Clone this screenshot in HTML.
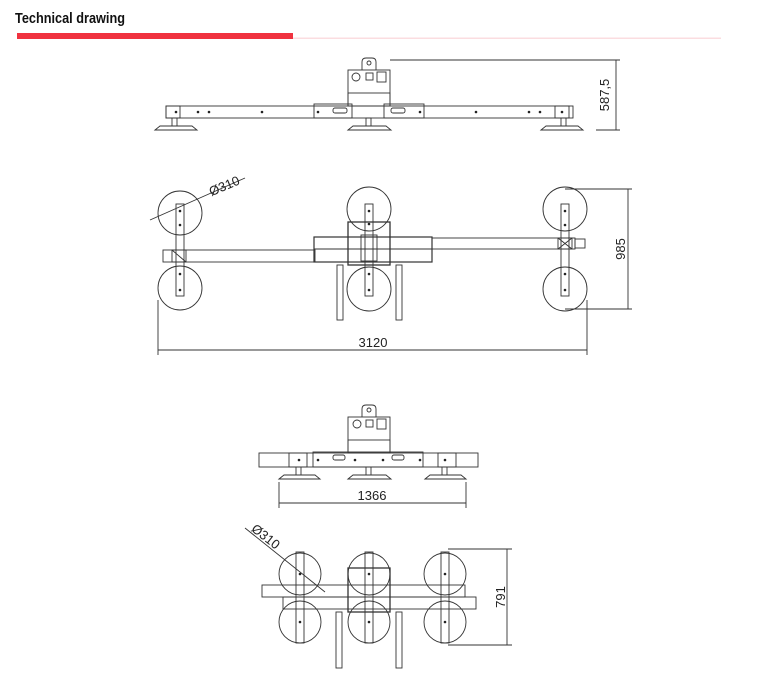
<!DOCTYPE html>
<html><head><meta charset="utf-8"><style>
body{margin:0;background:#fff;width:764px;height:680px;overflow:hidden}
svg{display:block}
</style></head><body>
<svg width="764" height="680" viewBox="0 0 764 680" xmlns="http://www.w3.org/2000/svg" font-family="Liberation Sans, sans-serif">
<text x="15" y="23" font-size="15" font-weight="bold" fill="#111" textLength="110" lengthAdjust="spacingAndGlyphs">Technical drawing</text>
<rect x="17" y="33" width="276" height="6" fill="#f0323f"/>
<rect x="293" y="37.5" width="428" height="1.5" fill="#fbdde0"/>
<g fill="none" stroke="#333" stroke-width="0.9">
<!-- TOP SIDE VIEW -->
<rect x="166" y="106" width="407" height="12"/>
<rect x="166" y="106" width="14" height="12"/><rect x="555" y="106" width="14" height="12"/>
<rect x="314" y="104" width="38" height="14"/><rect x="384" y="104" width="40" height="14"/>
<rect x="348" y="70" width="42" height="36"/><rect x="348" y="93" width="42" height="13"/>
<path d="M362 70 V62 Q362 58 366 58 H372 Q376 58 376 62 V70"/><circle cx="369" cy="63" r="2"/>
<circle cx="356" cy="77" r="4"/><rect x="366" y="73" width="7" height="7"/><rect x="377" y="72" width="9" height="10"/>
<rect x="333" y="108" width="14" height="5" rx="2"/><rect x="391" y="108" width="14" height="5" rx="2"/>
<rect x="172" y="118" width="5" height="8"/><rect x="366" y="118" width="5" height="8"/><rect x="561" y="118" width="5" height="8"/>
<path d="M155 130 L160 126 H192 L197 130 Z"/><path d="M348 130 L353 126 H386 L391 130 Z"/><path d="M541 130 L546 126 H578 L583 130 Z"/>
<path d="M390 60 H620 M596 130 H620 M616 60 V130"/>
<!-- TOP VIEW -->
<circle cx="180" cy="213" r="22"/><circle cx="180" cy="288" r="22"/>
<circle cx="369" cy="209" r="22"/><circle cx="369" cy="289" r="22"/>
<circle cx="565" cy="209" r="22"/><circle cx="565" cy="289" r="22"/>
<rect x="176" y="204" width="8" height="92"/><rect x="365" y="204" width="8" height="92"/><rect x="561" y="204" width="8" height="92"/>
<rect x="163" y="250" width="152" height="12"/><rect x="172" y="250" width="14" height="12"/><path d="M172 250 L186 262"/>
<rect x="432" y="238" width="143" height="11"/><rect x="558" y="238" width="14" height="11"/><path d="M558 238 L572 249 M572 238 L558 249"/>
<rect x="575" y="239" width="10" height="9"/>
<rect x="314" y="237" width="118" height="25" stroke-width="1.2"/><path d="M314 249 H432"/>
<rect x="348" y="222" width="42" height="43" stroke-width="1.3"/><rect x="361" y="235" width="16" height="26"/>
<rect x="337" y="265" width="6" height="55"/><rect x="396" y="265" width="6" height="55"/>
<path d="M150 220 L245 178"/>
<path d="M158 300 V355 M587 300 V355 M158 350 H587"/>
<path d="M565 189 H632 M565 309 H632 M628 189 V309"/>
<!-- BOTTOM SIDE VIEW -->
<rect x="259" y="453" width="219" height="14"/><rect x="289" y="453" width="18" height="14"/><rect x="438" y="453" width="18" height="14"/>
<rect x="313" y="452" width="110" height="15"/>
<rect x="348" y="417" width="42" height="36"/><rect x="348" y="440" width="42" height="13"/>
<path d="M362 417 V409 Q362 405 366 405 H372 Q376 405 376 409 V417"/><circle cx="369" cy="410" r="2"/>
<circle cx="357" cy="424" r="4"/><rect x="366" y="420" width="7" height="7"/><rect x="377" y="419" width="9" height="10"/>
<rect x="333" y="455" width="12" height="5" rx="2"/><rect x="392" y="455" width="12" height="5" rx="2"/>
<rect x="296" y="467" width="5" height="8"/><rect x="366" y="467" width="5" height="8"/><rect x="442" y="467" width="5" height="8"/>
<path d="M279 479 L284 475 H315 L320 479 Z"/><path d="M348 479 L353 475 H386 L391 479 Z"/><path d="M425 479 L430 475 H461 L466 479 Z"/>
<path d="M279 482 V508 M466 482 V508 M279 503 H466"/>
<!-- BOTTOM TOP VIEW -->
<circle cx="300" cy="574" r="21"/><circle cx="300" cy="622" r="21"/>
<circle cx="369" cy="574" r="21"/><circle cx="369" cy="622" r="21"/>
<circle cx="445" cy="574" r="21"/><circle cx="445" cy="622" r="21"/>
<rect x="296" y="552" width="8" height="91"/><rect x="365" y="552" width="8" height="91"/><rect x="441" y="552" width="8" height="91"/>
<rect x="262" y="585" width="203" height="12"/><rect x="283" y="597" width="193" height="12"/>
<rect x="348" y="568" width="42" height="44" stroke-width="1.3"/>
<rect x="336" y="612" width="6" height="56"/><rect x="396" y="612" width="6" height="56"/>
<path d="M245 528 L325 592"/>
<path d="M448 549 H512 M448 645 H512 M507 549 V645"/>
</g>
<g fill="#222">
<circle cx="180" cy="211" r="1.3"/><circle cx="180" cy="225" r="1.3"/><circle cx="180" cy="274" r="1.3"/><circle cx="180" cy="290" r="1.3"/>
<circle cx="369" cy="211" r="1.3"/><circle cx="369" cy="224" r="1.3"/><circle cx="369" cy="274" r="1.3"/><circle cx="369" cy="290" r="1.3"/>
<circle cx="565" cy="211" r="1.3"/><circle cx="565" cy="225" r="1.3"/><circle cx="565" cy="274" r="1.3"/><circle cx="565" cy="290" r="1.3"/>
<circle cx="176" cy="112" r="1.3"/><circle cx="198" cy="112" r="1.3"/><circle cx="209" cy="112" r="1.3"/><circle cx="262" cy="112" r="1.3"/>
<circle cx="318" cy="112" r="1.3"/><circle cx="420" cy="112" r="1.3"/><circle cx="476" cy="112" r="1.3"/><circle cx="529" cy="112" r="1.3"/><circle cx="540" cy="112" r="1.3"/><circle cx="562" cy="112" r="1.3"/>
<circle cx="299" cy="460" r="1.3"/><circle cx="318" cy="460" r="1.3"/><circle cx="355" cy="460" r="1.3"/><circle cx="383" cy="460" r="1.3"/><circle cx="420" cy="460" r="1.3"/><circle cx="445" cy="460" r="1.3"/>
<circle cx="300" cy="574" r="1.3"/><circle cx="300" cy="622" r="1.3"/><circle cx="369" cy="574" r="1.3"/><circle cx="369" cy="622" r="1.3"/><circle cx="445" cy="574" r="1.3"/><circle cx="445" cy="622" r="1.3"/>
</g>
<g fill="#222" font-size="13">
<text x="373" y="347" text-anchor="middle">3120</text>
<text x="372" y="500" text-anchor="middle">1366</text>
<text transform="translate(609,95) rotate(-90)" text-anchor="middle">587,5</text>
<text transform="translate(625,249) rotate(-90)" text-anchor="middle">985</text>
<text transform="translate(505,597) rotate(-90)" text-anchor="middle">791</text>
<text transform="translate(226,190) rotate(-23)" text-anchor="middle">Ø310</text>
<text transform="translate(263,540) rotate(38)" text-anchor="middle">Ø310</text>
</g>
</svg>
</body></html>
